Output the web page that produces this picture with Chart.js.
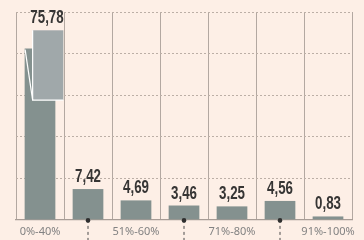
<!DOCTYPE html>
<html>
<head>
<meta charset="utf-8">
<script src="https://cdn.jsdelivr.net/npm/chart.js@4.4.1/dist/chart.umd.min.js"></script>
<style>
  html, body { margin: 0; padding: 0; background: #fdefe6; }
  #wrap { width: 364px; height: 240px; }
</style>
</head>
<body>
<div id="wrap"><canvas id="myChart" width="364" height="240"></canvas></div>
<script>
// data
const categories = ['0%-40%', '41%-50%', '51%-60%', '61%-70%', '71%-80%', '81%-90%', '91%-100%'];
const shares = [75.78, 7.42, 4.69, 3.46, 3.25, 4.56, 0.83];
const yTicks = [0, 10, 20, 30, 40, 50];

// broken first bar: lower stub ends here, top piece drawn shifted right
const axisMax = 50;
const breakLow = 41.2;
const pieceRange = [28.8, 45.6];

const barColor = '#84918f';
const pieceColor = '#a0a8aa';
const labelFont = 'bold 18px "Liberation Sans", Arial, sans-serif';

const fmt = v => v.toFixed(2).replace('.', ',');

function narrowText(ctx, text, x, y) {
  ctx.save();
  ctx.translate(x, y);
  ctx.scale(0.74, 1);
  ctx.fillText(text, 0, 0);
  ctx.restore();
}

const extras = {
  id: 'extras',
  afterDatasetsDraw(chart) {
    const ctx = chart.ctx;
    const xs = chart.scales.x;
    const ys = chart.scales.y;
    const bars = chart.getDatasetMeta(0).data;

    ctx.save();
    // broken bar top piece
    bars.forEach((bar, i) => {
      if (shares[i] <= axisMax) return;
      const left = bar.x - bar.width / 2;
      const pl = left + 8;
      const pr = pl + bar.width;
      const pt = ys.getPixelForValue(pieceRange[1]);
      const pb = ys.getPixelForValue(pieceRange[0]);
      ctx.fillStyle = pieceColor;
      ctx.fillRect(pl, pt, pr - pl, pb - pt);
      ctx.strokeStyle = '#ffffff';
      ctx.lineWidth = 1.2;
      ctx.beginPath();
      ctx.moveTo(pl, pt);
      ctx.lineTo(pl, pb);
      ctx.lineTo(pr, pb);
      ctx.stroke();
      ctx.beginPath();
      ctx.moveTo(left + 0.5, bar.y + 1);
      ctx.lineTo(pl, pb);
      ctx.stroke();
    });

    // value labels
    ctx.font = labelFont;
    ctx.fillStyle = '#363534';
    ctx.textAlign = 'center';
    ctx.textBaseline = 'alphabetic';
    bars.forEach((bar, i) => {
      let x = bar.x;
      let top = bar.y;
      if (shares[i] > axisMax) {
        x = bar.x + 7;
        top = ys.getPixelForValue(pieceRange[1]);
      }
      narrowText(ctx, fmt(shares[i]), x, top - 7);
    });

    // leader lines for the labels placed further below
    categories.forEach((c, i) => {
      if (i % 2 === 0) return;
      const x = xs.getPixelForValue(i);
      const y = chart.chartArea.bottom;
      ctx.strokeStyle = '#4a4a4a';
      ctx.lineWidth = 1;
      ctx.setLineDash([3, 3]);
      ctx.beginPath();
      ctx.moveTo(x, y);
      ctx.lineTo(x, chart.height);
      ctx.stroke();
      ctx.setLineDash([]);
      ctx.fillStyle = '#2f2f2f';
      ctx.beginPath();
      ctx.arc(x, y + 0.5, 2.3, 0, Math.PI * 2);
      ctx.fill();
    });
    ctx.restore();
  }
};

Chart.defaults.font.family = '"Noto Sans", sans-serif';

let ctx = document.getElementById('myChart');
let myChart = new Chart(ctx, {
  type: 'bar',
  data: {
    labels: categories,
    datasets: [{
      data: shares.map(v => v > axisMax ? breakLow : v),
      backgroundColor: barColor,
      borderWidth: 0,
      barPercentage: 0.8,
      categoryPercentage: 0.8
    }]
  },
  options: {
    responsive: false,
    animation: false,
    layout: {
      padding: { left: 16, right: 12, top: 12, bottom: -4 }
    },
    plugins: {
      legend: { display: false },
      tooltip: { enabled: false }
    },
    scales: {
      x: {
        grid: {
          offset: true,
          color: '#b3a8a1',
          lineWidth: 1,
          drawTicks: false
        },
        border: { display: true, color: '#a89d96', width: 1.2 },
        ticks: {
          autoSkip: false,
          maxRotation: 0,
          padding: 6,
          color: '#828282',
          font: { size: 11, lineHeight: 1.1 },
          callback: (v, i) => i % 2 === 0 ? categories[i] : ''
        }
      },
      y: {
        min: yTicks[0],
        max: yTicks[yTicks.length - 1],
        afterBuildTicks: axis => { axis.ticks = yTicks.map(v => ({ value: v })); },
        grid: {
          color: '#bcafa6',
          lineWidth: 1,
          drawTicks: false
        },
        border: { display: false, dash: [2, 2] },
        ticks: { display: false }
      }
    }
  },
  plugins: [extras]
});
</script>
</body>
</html>
